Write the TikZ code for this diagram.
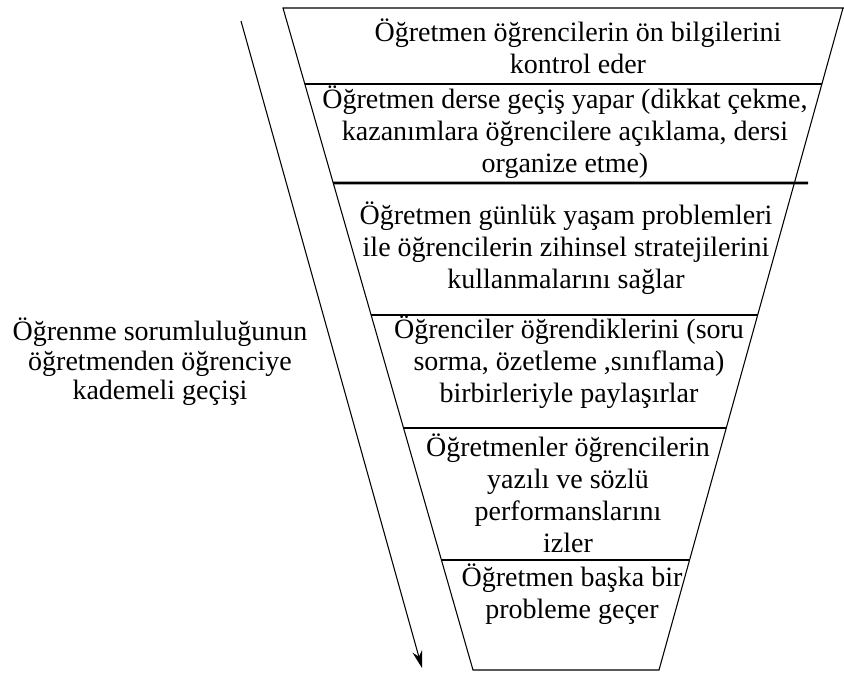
\documentclass[tikz,border=0pt]{standalone}
\usepackage{fontspec}
\setmainfont{Liberation Serif}
\usetikzlibrary{arrows.meta, calc}

\begin{document}
\begin{tikzpicture}[
  x=0.75pt, y=-0.75pt,
  edge/.style={line width=0.8pt},
  thicksep/.style={line width=2pt},
  txt/.style={align=center, inner sep=0pt, font=\fontsize{21}{24}\selectfont},
  side/.style={align=center, inner sep=0pt, font=\fontsize{21}{22}\selectfont},
  flow/.style={line width=0.8pt, -{Stealth[length=13pt, width=7.5pt]}}
]
  \useasboundingbox (0,0) rectangle (844,675);

  % Funnel corners
  \coordinate (tl) at (283,8);
  \coordinate (tr) at (843,8);
  \coordinate (bl) at (473,670);
  \coordinate (br) at (659,670);

  % Funnel outline
  \draw[edge] (844,8) -- (tl) -- (bl) -- (br) -- (tr);

  % Separators
  \foreach \y [evaluate=\y as \f using (\y-8)/662] in {84,315,428,560} {
    \draw[edge] ($(tl)!\f!(bl)$) -- ($(tr)!\f!(br)$);
  }
  \draw[thicksep] ($(tl)!0.2644!(bl)$) -- (808,183);

  % Steps
  \node[txt] (step1) at (578,46) {Öğretmen öğrencilerin ön bilgilerini\\kontrol eder};
  \node[txt] (step2) at (565,132) {Öğretmen derse geçiş yapar (dikkat çekme,\\kazanımlara öğrencilere açıklama, dersi\\organize etme)};
  \node[txt] (step3) at (566,248) {Öğretmen günlük yaşam problemleri\\ile öğrencilerin zihinsel stratejilerini\\kullanmalarını sağlar};
  \node[txt] (step4) at (569,362) {Öğrenciler öğrendiklerini (soru\\sorma, özetleme ,sınıflama)\\birbirleriyle paylaşırlar};
  \node[txt] (step5) at (568,493) {Öğretmenler öğrencilerin\\yazılı ve sözlü\\performanslarını\\izler};
  \node[txt] (step6) at (572,594) {Öğretmen başka bir\\probleme geçer};

  % Arrow
  \coordinate (arrowtop) at (241,21);
  \coordinate (arrowtip) at (422,668);
  \draw[flow] (arrowtop) -- (arrowtip);
  \node[side] (shift) at (160,362) {Öğrenme sorumluluğunun\\öğretmenden öğrenciye\\kademeli geçişi};
\end{tikzpicture}
\end{document}
